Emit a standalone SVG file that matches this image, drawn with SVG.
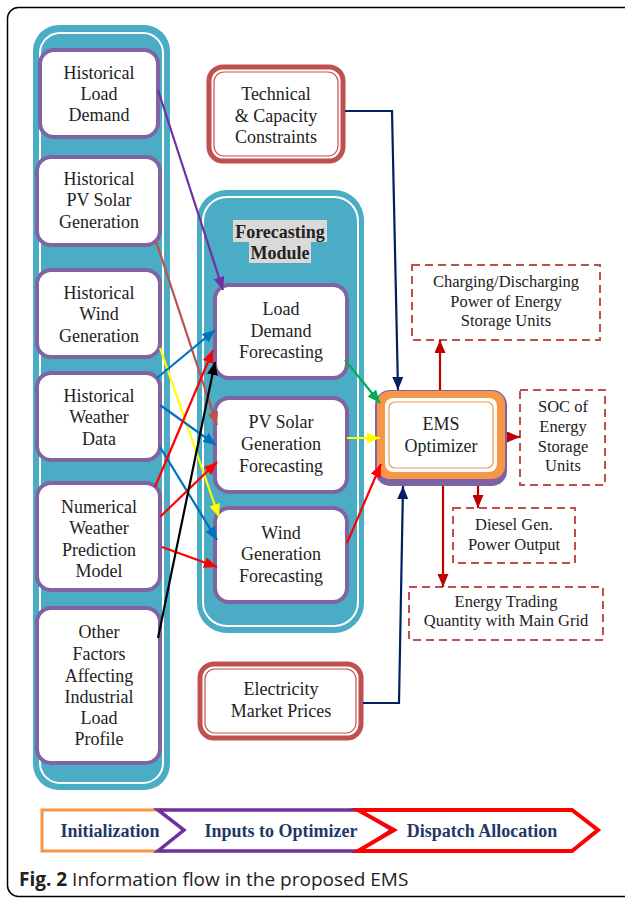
<svg xmlns="http://www.w3.org/2000/svg" width="625" height="898" viewBox="0 0 625 898">
<style>
.t{font-family:"Liberation Serif","Times New Roman",serif;font-size:18px;fill:#222;text-anchor:middle}
.o{font-family:"Liberation Serif","Times New Roman",serif;font-size:16.5px;fill:#222;text-anchor:middle}
.lg{font-family:"Liberation Serif","Times New Roman",serif;font-size:18px;font-weight:bold;fill:#1f3864;text-anchor:middle}
.node{fill:#fff;stroke:#8064a2;stroke-width:4}
.teal{fill:#4bacc6}
.tealin{fill:none;stroke:#fff;stroke-width:2}
.redbox{fill:#fff;stroke:#c0504d;stroke-width:5}
.redin{fill:none;stroke:#c0504d;stroke-width:1.2}
.dash{fill:#fff;stroke:#c0504d;stroke-width:2;stroke-dasharray:8 5}
.c{fill:none;stroke-width:2.2}
</style>
<defs>
<marker id="mPu" markerUnits="userSpaceOnUse" markerWidth="13" markerHeight="11" refX="13" refY="5.5" orient="auto"><path d="M0,0L13,5.5L0,11z" fill="#7030a0"/></marker>
<marker id="mBr" markerUnits="userSpaceOnUse" markerWidth="13" markerHeight="11" refX="13" refY="5.5" orient="auto"><path d="M0,0L13,5.5L0,11z" fill="#c0504d"/></marker>
<marker id="mYe" markerUnits="userSpaceOnUse" markerWidth="13" markerHeight="11" refX="13" refY="5.5" orient="auto"><path d="M0,0L13,5.5L0,11z" fill="#ffff00"/></marker>
<marker id="mBl" markerUnits="userSpaceOnUse" markerWidth="13" markerHeight="11" refX="13" refY="5.5" orient="auto"><path d="M0,0L13,5.5L0,11z" fill="#0070c0"/></marker>
<marker id="mRe" markerUnits="userSpaceOnUse" markerWidth="13" markerHeight="11" refX="13" refY="5.5" orient="auto"><path d="M0,0L13,5.5L0,11z" fill="#ff0000"/></marker>
<marker id="mBk" markerUnits="userSpaceOnUse" markerWidth="13" markerHeight="11" refX="13" refY="5.5" orient="auto"><path d="M0,0L13,5.5L0,11z" fill="#000"/></marker>
<marker id="mGr" markerUnits="userSpaceOnUse" markerWidth="13" markerHeight="11" refX="13" refY="5.5" orient="auto"><path d="M0,0L13,5.5L0,11z" fill="#00b050"/></marker>
<marker id="mNv" markerUnits="userSpaceOnUse" markerWidth="13" markerHeight="11" refX="13" refY="5.5" orient="auto"><path d="M0,0L13,5.5L0,11z" fill="#002060"/></marker>
<marker id="mDr" markerUnits="userSpaceOnUse" markerWidth="13" markerHeight="11" refX="13" refY="5.5" orient="auto"><path d="M0,0L13,5.5L0,11z" fill="#c00000"/></marker>
</defs>
<rect width="625" height="898" fill="#fff"/>
<rect x="7.5" y="7.5" width="640" height="889" rx="11" fill="none" stroke="#000" stroke-width="1.5"/>

<g id="input-column">
<rect class="teal" x="33" y="25" width="137" height="765" rx="26"/>
<rect class="tealin" x="40" y="33" width="123" height="750" rx="20"/>
</g>
<g id="forecasting-module">
<rect class="teal" x="197" y="190" width="167" height="443" rx="30"/>
<rect class="tealin" x="203" y="197" width="155" height="429" rx="24"/>
<rect x="233" y="220" width="94" height="22" fill="#d9d9d9"/>
<rect x="249" y="242" width="62" height="21" fill="#d9d9d9"/>
<text class="t" x="280" y="238" font-weight="bold">Forecasting</text>
<text class="t" x="280" y="259" font-weight="bold">Module</text>
</g>

<g id="hist-load">
<rect class="node" x="40" y="50" width="118" height="87" rx="14"/>
<text class="t" x="99" y="79">Historical</text><text class="t" x="99" y="100">Load</text><text class="t" x="99" y="121">Demand</text>
</g>
<g id="hist-pv">
<rect class="node" x="37" y="157" width="123" height="88" rx="14"/>
<text class="t" x="99" y="185">Historical</text><text class="t" x="99" y="206">PV Solar</text><text class="t" x="99" y="228">Generation</text>
</g>
<g id="hist-wind">
<rect class="node" x="37" y="270" width="123" height="87" rx="14"/>
<text class="t" x="99" y="299">Historical</text><text class="t" x="99" y="320">Wind</text><text class="t" x="99" y="342">Generation</text>
</g>
<g id="hist-weather">
<rect class="node" x="37" y="373" width="123" height="87" rx="14"/>
<text class="t" x="99" y="402">Historical</text><text class="t" x="99" y="423">Weather</text><text class="t" x="99" y="445">Data</text>
</g>
<g id="nwp">
<rect class="node" x="37" y="483" width="123" height="107" rx="14"/>
<text class="t" x="99" y="513">Numerical</text><text class="t" x="99" y="534">Weather</text><text class="t" x="99" y="556">Prediction</text><text class="t" x="99" y="577">Model</text>
</g>
<g id="other-factors">
<rect class="node" x="37" y="608" width="123" height="155" rx="14"/>
<text class="t" x="99" y="638">Other</text><text class="t" x="99" y="660">Factors</text><text class="t" x="99" y="682">Affecting</text><text class="t" x="99" y="703">Industrial</text><text class="t" x="99" y="724">Load</text><text class="t" x="99" y="745">Profile</text>
</g>

<g id="load-forecast">
<rect class="node" x="215" y="285" width="132" height="93" rx="14"/>
<text class="t" x="281" y="315">Load</text><text class="t" x="281" y="337">Demand</text><text class="t" x="281" y="358">Forecasting</text>
</g>
<g id="pv-forecast">
<rect class="node" x="215" y="398" width="132" height="94" rx="14"/>
<text class="t" x="281" y="428">PV Solar</text><text class="t" x="281" y="450">Generation</text><text class="t" x="281" y="472">Forecasting</text>
</g>
<g id="wind-forecast">
<rect class="node" x="215" y="508" width="132" height="94" rx="14"/>
<text class="t" x="281" y="539">Wind</text><text class="t" x="281" y="560">Generation</text><text class="t" x="281" y="582">Forecasting</text>
</g>

<g id="constraints">
<rect class="redbox" x="209" y="67" width="134" height="94" rx="14"/>
<rect class="redin" x="214" y="72" width="124" height="84" rx="10"/>
<text class="t" x="276" y="100">Technical</text><text class="t" x="276" y="122">&amp; Capacity</text><text class="t" x="276" y="143">Constraints</text>
</g>
<g id="market-prices">
<rect class="redbox" x="200" y="664" width="161" height="74" rx="14"/>
<rect class="redin" x="205" y="669" width="151" height="64" rx="10"/>
<text class="t" x="281" y="695">Electricity</text><text class="t" x="281" y="717">Market Prices</text>
</g>

<g id="ems-optimizer">
<rect x="375" y="390" width="132" height="96" rx="15" fill="#7e62a6"/>
<rect x="377" y="391" width="128" height="88" rx="13" fill="#f79646"/>
<rect x="385" y="398" width="112" height="74" rx="8" fill="#fff"/>
<rect x="389" y="402" width="104" height="66" rx="6" fill="none" stroke="#f79646" stroke-width="1.2"/>
<text class="t" x="441" y="430">EMS</text><text class="t" x="441" y="452">Optimizer</text>
</g>

<g id="out-charging">
<rect class="dash" x="412" y="265" width="188" height="75"/>
<text class="o" x="506" y="287">Charging/Discharging</text><text class="o" x="506" y="307">Power of Energy</text><text class="o" x="506" y="326">Storage Units</text>
</g>
<g id="out-soc">
<rect class="dash" x="520" y="390" width="85" height="95"/>
<text class="o" x="563" y="412">SOC of</text><text class="o" x="563" y="432">Energy</text><text class="o" x="563" y="452">Storage</text><text class="o" x="563" y="471">Units</text>
</g>
<g id="out-diesel">
<rect class="dash" x="453" y="508" width="122" height="55"/>
<text class="o" x="514" y="530">Diesel Gen.</text><text class="o" x="514" y="550">Power Output</text>
</g>
<g id="out-trading">
<rect class="dash" x="409" y="587" width="194" height="53"/>
<text class="o" x="506" y="607">Energy Trading</text><text class="o" x="506" y="626">Quantity with Main Grid</text>
</g>

<g id="connectors">
<line class="c" x1="158" y1="90" x2="223" y2="290" stroke="#7030a0" marker-end="url(#mPu)"/>
<line class="c" x1="156" y1="241" x2="217" y2="425" stroke="#c0504d" marker-end="url(#mBr)"/>
<line class="c" x1="160" y1="348" x2="219" y2="517" stroke="#ffff00" marker-end="url(#mYe)"/>
<line class="c" x1="157" y1="378" x2="215" y2="330" stroke="#0070c0" marker-end="url(#mBl)"/>
<line class="c" x1="160" y1="405" x2="216" y2="445" stroke="#0070c0" marker-end="url(#mBl)"/>
<line class="c" x1="160" y1="447" x2="217" y2="540" stroke="#0070c0" marker-end="url(#mBl)"/>
<line class="c" x1="155" y1="487" x2="213" y2="350" stroke="#ff0000" marker-end="url(#mRe)"/>
<line class="c" x1="160" y1="517" x2="217" y2="462" stroke="#ff0000" marker-end="url(#mRe)"/>
<line class="c" x1="162" y1="547" x2="217" y2="567" stroke="#ff0000" marker-end="url(#mRe)"/>
<line class="c" x1="158" y1="638" x2="215" y2="362" stroke="#000" marker-end="url(#mBk)"/>
<line class="c" x1="345" y1="360" x2="380" y2="403" stroke="#00b050" marker-end="url(#mGr)"/>
<line class="c" x1="347" y1="438" x2="380" y2="438" stroke="#ffff00" marker-end="url(#mYe)"/>
<line class="c" x1="347" y1="543" x2="381" y2="464" stroke="#ff0000" marker-end="url(#mRe)"/>
<path class="c" d="M345,111H392L398,390" stroke="#002060" stroke-width="2.5" marker-end="url(#mNv)"/>
<path class="c" d="M363,703H399L403,486" stroke="#002060" stroke-width="2.5" marker-end="url(#mNv)"/>
<line class="c" x1="440" y1="390" x2="440" y2="340" stroke="#c00000" marker-end="url(#mDr)"/>
<line class="c" x1="507" y1="437" x2="520" y2="437" stroke="#c00000" marker-end="url(#mDr)"/>
<line class="c" x1="478" y1="486" x2="478" y2="508" stroke="#c00000" marker-end="url(#mDr)"/>
<line class="c" x1="443" y1="486" x2="443" y2="587" stroke="#c00000" marker-end="url(#mDr)"/>
</g>

<g id="legend">
<polygon points="42,810 166,810 186,830 166,851 42,851" fill="#fff" stroke="#f79646" stroke-width="3"/>
<polygon points="158,810 360,810 392,830 360,851 158,851 184,830" fill="#fff" stroke="#7030a0" stroke-width="3.5"/>
<polygon points="358,810 572,810 598,830 572,851 358,851 394,830" fill="#fff" stroke="#ff0000" stroke-width="4"/>
<text class="lg" x="110" y="837">Initialization</text>
<text class="lg" x="281" y="837">Inputs to Optimizer</text>
<text class="lg" x="482" y="837">Dispatch Allocation</text>
</g>
<text x="19" y="886" font-family="'Open Sans','Noto Sans',sans-serif" font-size="19" fill="#222"><tspan font-weight="bold">Fig. 2</tspan> Information flow in the proposed EMS</text>
</svg>
